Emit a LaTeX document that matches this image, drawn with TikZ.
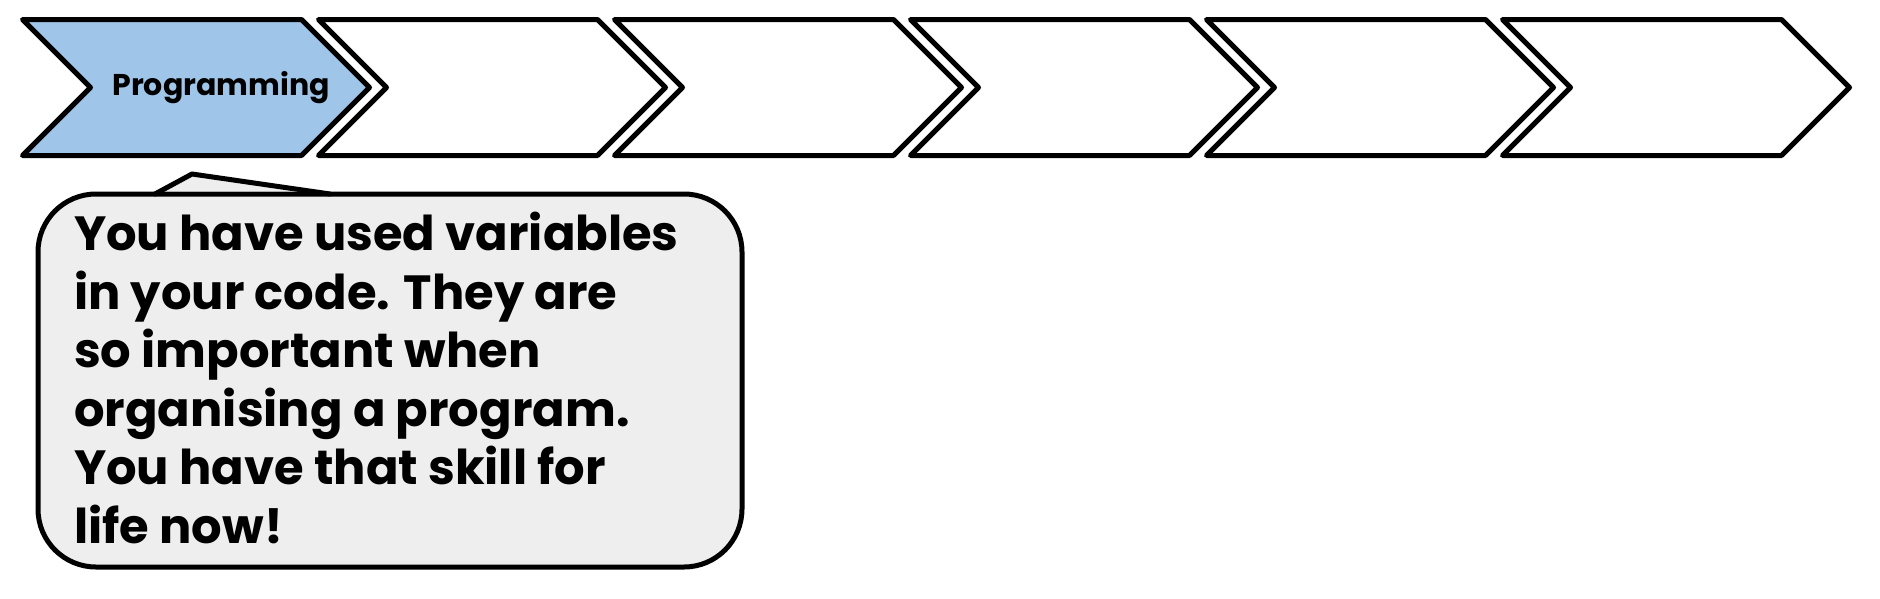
\documentclass[tikz,border=0pt]{standalone}
\usepackage{fontspec}
\setmainfont{Poppins}
\usetikzlibrary{shapes.symbols}
\definecolor{chevblue}{HTML}{9FC5E8}
\definecolor{callgray}{HTML}{EEEEEE}
\tikzset{
  chev/.style={shape=signal, signal to=east, signal from=west, signal pointer angle=90,
    draw=black, line width=5pt, line join=round, fill=white,
    minimum width=347pt, minimum height=136pt, inner sep=0pt, outer sep=0pt},
  chevlabel/.style={font=\fontsize{30}{36}\selectfont\bfseries, inner sep=0pt},
  calloutbox/.style={draw=black, line width=5pt, fill=callgray, rounded corners=58pt,
    minimum width=704pt, minimum height=373pt, inner sep=0pt, outer sep=0pt},
  callouttext/.style={font=\fontsize{48}{58.5}\selectfont\bfseries, align=left, inner sep=0pt, anchor=north west},
  tailline/.style={draw=black, line width=5pt, line join=round, line cap=round},
}
\begin{document}
\begin{tikzpicture}[x=1pt,y=-1pt]
\useasboundingbox (0,0) rectangle (1880,598);
\node[chev, fill=chevblue] (c1) at (196,87.5) {};
\node[chev] (c2) at (492,87.5) {};
\node[chev] (c3) at (788,87.5) {};
\node[chev] (c4) at (1084,87.5) {};
\node[chev] (c5) at (1380,87.5) {};
\node[chev] (c6) at (1676,87.5) {};
\node[chevlabel] (t1) at (221,88) {Programming};
% callout
\node[calloutbox] (box) at (390,380.5) {};
\coordinate (tl) at (155,194);
\coordinate (tip) at (192,174);
\coordinate (tr) at (330,194);
\fill[callgray] ([yshift=3pt]tl) -- (tip) -- ([yshift=3pt]tr) -- cycle;
\draw[tailline] (tl) -- (tip) -- (tr);
\node[callouttext] (txt) at (74,212) {You have used variables\\in your code. They are\\so important when\\organising a program.\\You have that skill for\\life now!};
\end{tikzpicture}
\end{document}
